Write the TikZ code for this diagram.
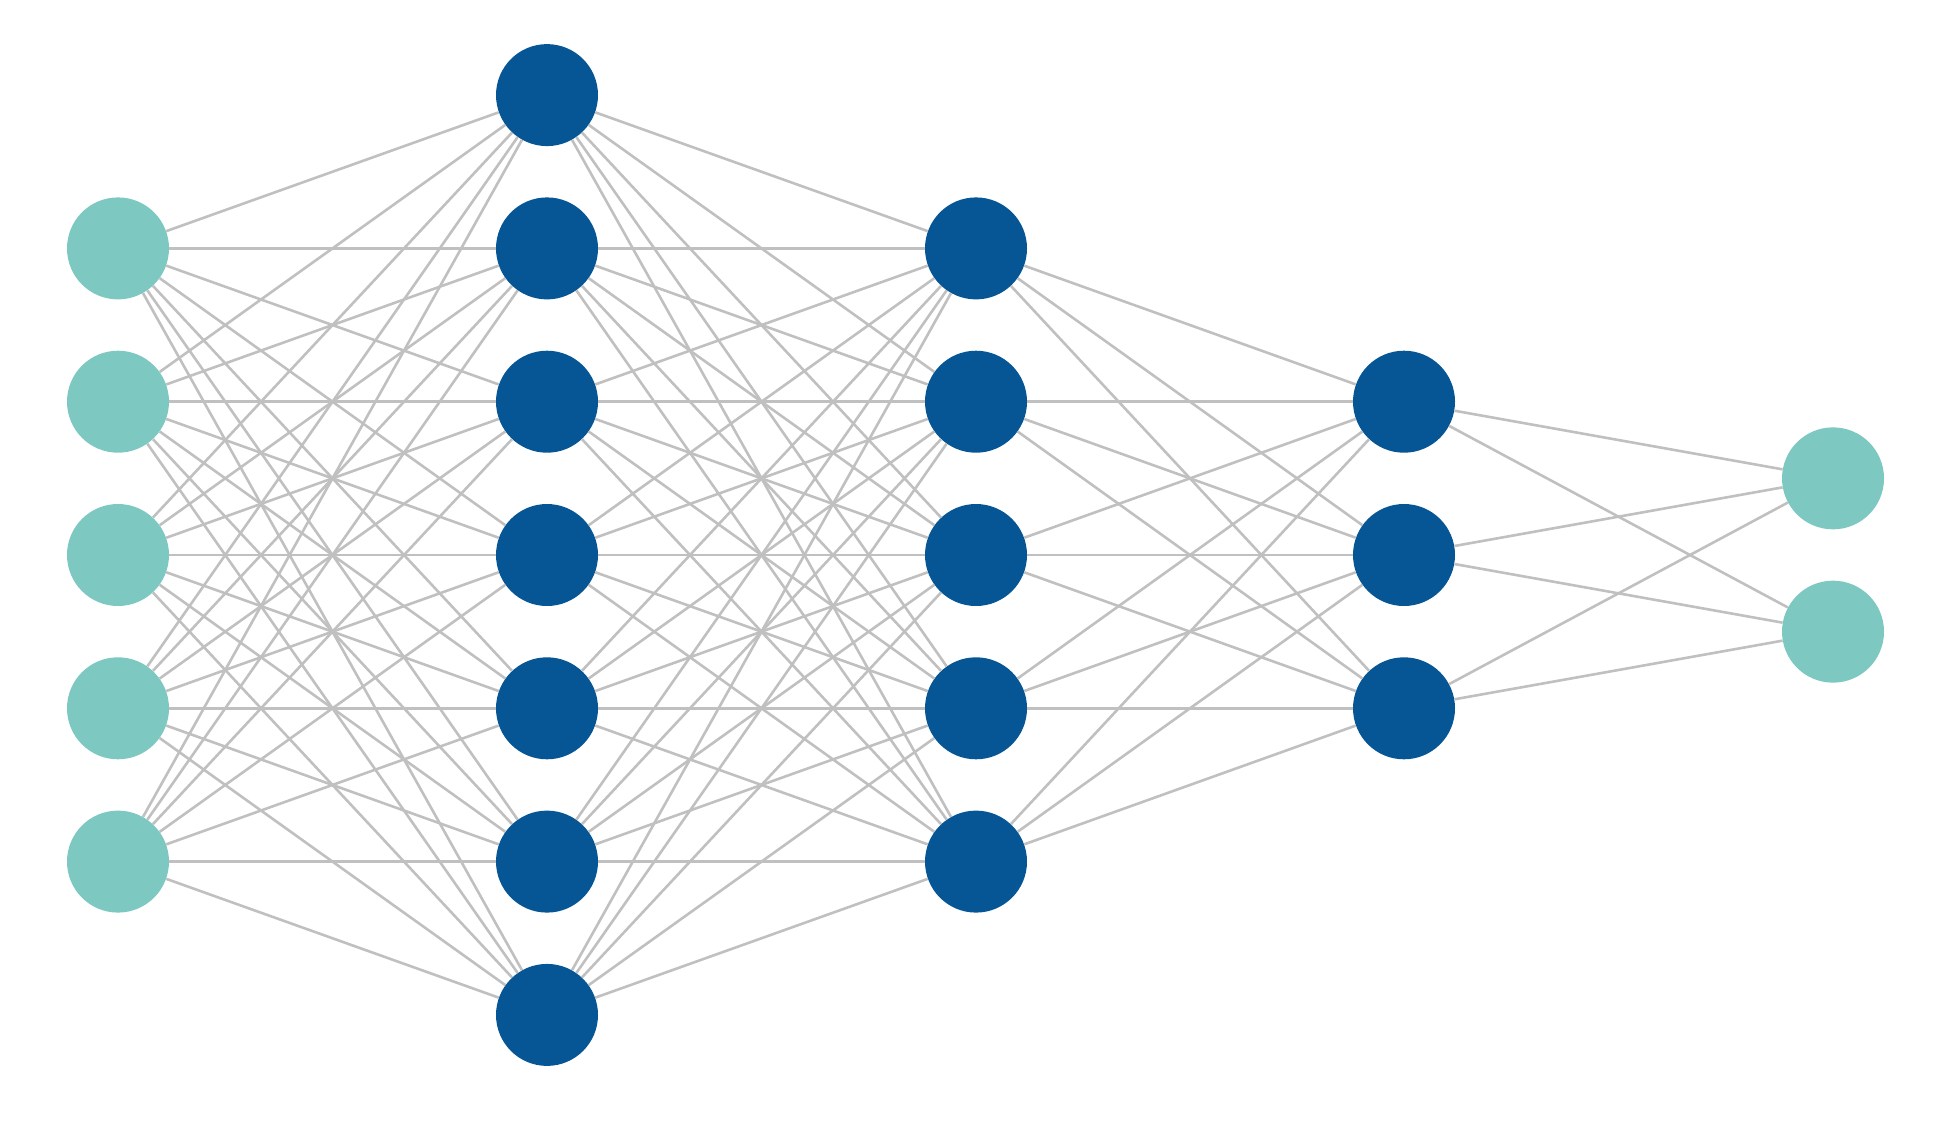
\documentclass[tikz,border=0pt]{standalone}
\definecolor{inout}{RGB}{126,200,194}
\definecolor{hidden}{RGB}{6,86,150}
\definecolor{edgegray}{RGB}{192,192,192}
\begin{document}
\begin{tikzpicture}[x=1pt,y=-1pt,
  neuron/.style={circle,minimum size=102pt,inner sep=0pt,draw=none},
  inneuron/.style={neuron,fill=inout},
  hidneuron/.style={neuron,fill=hidden},
  link/.style={draw=edgegray,line width=2.6pt}]
\useasboundingbox (0,0) rectangle (1947,1125);
% layer 1 (input)
\foreach \i in {1,...,5} \node[inneuron] (a\i) at (118,{555+(\i-3)*153.3}) {};
% layer 2
\foreach \i in {1,...,7} \node[hidneuron] (b\i) at (547,{555+(\i-4)*153.3}) {};
% layer 3
\foreach \i in {1,...,5} \node[hidneuron] (c\i) at (976,{555+(\i-3)*153.3}) {};
% layer 4
\foreach \i in {1,...,3} \node[hidneuron] (d\i) at (1404,{555+(\i-2)*153.3}) {};
% layer 5 (output)
\foreach \i in {1,2} \node[inneuron] (e\i) at (1833,{555+(\i-1.5)*153.3}) {};
% connections
\foreach \i in {1,...,5} \foreach \j in {1,...,7} \draw[link] (a\i) -- (b\j);
\foreach \i in {1,...,7} \foreach \j in {1,...,5} \draw[link] (b\i) -- (c\j);
\foreach \i in {1,...,5} \foreach \j in {1,...,3} \draw[link] (c\i) -- (d\j);
\foreach \i in {1,...,3} \foreach \j in {1,2} \draw[link] (d\i) -- (e\j);
\end{tikzpicture}
\end{document}
